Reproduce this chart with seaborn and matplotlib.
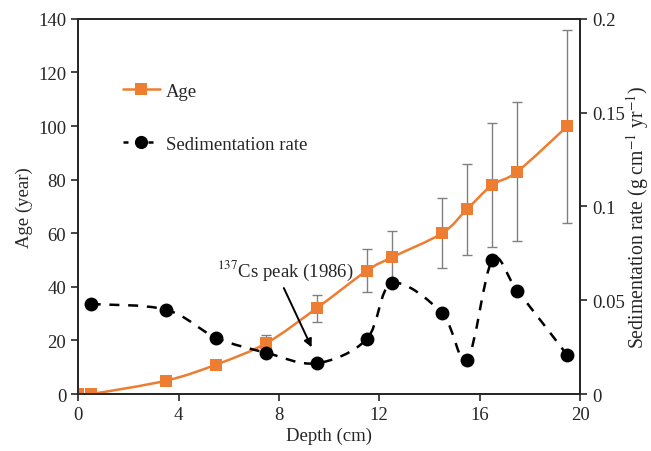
import numpy as np
import pandas as pd
import matplotlib
matplotlib.use("Agg")
import matplotlib.pyplot as plt
from matplotlib.path import Path
from matplotlib.patches import PathPatch
from matplotlib.lines import Line2D
import seaborn as sns

# ---- data ----
age_depth = [0, 0.5, 3.5, 5.5, 7.5, 9.5, 11.5, 12.5, 14.5, 15.5, 16.5, 17.5, 19.5]
age_year = [0, 0, 5, 11, 19, 32, 46, 51, 60, 69, 78, 83, 100]
age_err = [0, 0, 1.5, 0.5, 3, 5, 8, 10, 13, 17, 23, 26, 36]

sed_depth = [0.5, 3.5, 5.5, 7.5, 9.5, 11.5, 12.5, 14.5, 15.5, 16.5, 17.5, 19.5]
sed_rate = [0.048, 0.045, 0.030, 0.022, 0.0164, 0.0293, 0.0590, 0.0432, 0.0182, 0.0712, 0.0552, 0.0206]

x_ticks = [0, 4, 8, 12, 16, 20]
y_ticks = [0, 20, 40, 60, 80, 100, 120, 140]
y2_ticks = [0, 0.05, 0.1, 0.15, 0.2]
y2_labels = ["0", "0.05", "0.1", "0.15", "0.2"]

age_df = pd.DataFrame({"depth": age_depth, "age": age_year})
sed_df = pd.DataFrame({"depth": sed_depth, "rate": sed_rate})

ORANGE = "#ED7D31"

sns.set_theme(style="ticks")
plt.rcParams["font.family"] = ["Liberation Serif", "DejaVu Serif"]
plt.rcParams["mathtext.fontset"] = "stix"
FS = 13.5


def smooth_path(xs, ys):
    """Catmull-Rom style Bezier path through the given points (like a smoothed line)."""
    pts = np.column_stack([xs, ys]).astype(float)
    n = len(pts)
    verts = [pts[0]]
    codes = [Path.MOVETO]
    for i in range(n - 1):
        p0 = pts[i - 1] if i > 0 else pts[i]
        p1 = pts[i]
        p2 = pts[i + 1]
        p3 = pts[i + 2] if i + 2 < n else pts[i + 1]
        c1 = p1 + (p2 - p0) / 6.0
        c2 = p2 - (p3 - p1) / 6.0
        verts += [c1, c2, p2]
        codes += [Path.CURVE4] * 3
    return Path(verts, codes)


fig = plt.figure(figsize=(6.51, 4.52), dpi=100)
ax = fig.add_axes([0.12, 0.126, 0.771, 0.830])
ax2 = ax.twinx()

# Age: error bars, smooth line, markers
ax.errorbar(age_depth, age_year, yerr=age_err, fmt="none", ecolor="#808080",
            elinewidth=1.0, capsize=3.5, capthick=1.0, zorder=2)
ax.add_patch(PathPatch(smooth_path(age_depth, age_year), fill=False,
                       edgecolor=ORANGE, lw=1.8, zorder=3))
sns.scatterplot(data=age_df, x="depth", y="age", ax=ax, marker="s", s=75,
                color=ORANGE, edgecolor=ORANGE, linewidth=0, zorder=4, legend=False)

# Sedimentation rate
ax2.add_patch(PathPatch(smooth_path(sed_depth, sed_rate), fill=False,
                        edgecolor="black", lw=1.8, linestyle=(0, (4, 3.5)), zorder=3))
sns.scatterplot(data=sed_df, x="depth", y="rate", ax=ax2, marker="o", s=100,
                color="black", edgecolor="black", linewidth=0, zorder=4, legend=False)

ax.set_xlim(0, 20)
ax.set_ylim(0, 140)
ax2.set_ylim(0, 0.2)
ax.set_xticks(x_ticks)
ax.set_xticklabels([str(t) for t in x_ticks], fontsize=FS)
ax.set_yticks(y_ticks)
ax.set_yticklabels([str(t) for t in y_ticks], fontsize=FS)
ax2.set_yticks(y2_ticks)
ax2.set_yticklabels(y2_labels, fontsize=FS)

ax.set_xlabel("Depth (cm)", fontsize=FS, labelpad=3)
ax.set_ylabel("Age (year)", fontsize=FS, labelpad=4)
ax2.set_ylabel("")
fig.text(637.5 / 651, 1 - 217 / 452, r"Sedimentation rate (g cm$^{-1}$ yr$^{-1}$)",
         rotation=90, ha="center", va="center", fontsize=14.2, color="#262626")

for a in (ax, ax2):
    for s in a.spines.values():
        s.set_color("#262626")
        s.set_linewidth(1.3)
    a.tick_params(colors="#262626", length=5, width=1.2, direction="out")
    a.tick_params(labelcolor="#262626")
ax.xaxis.set_ticks_position("bottom")

# annotation
ax.annotate("", xy=(9.35, 16.5), xytext=(8.15, 40.5),
            arrowprops=dict(arrowstyle="-|>", color="black", lw=1.4,
                            mutation_scale=12), zorder=6)
ax.text(5.55, 46.5, r"$^{137}$Cs peak (1986)", fontsize=FS, va="center", ha="left",
        color="#262626")

handles = [
    Line2D([], [], color=ORANGE, lw=1.8, marker="s", markersize=8.5, markeredgewidth=0),
    Line2D([], [], color="black", lw=1.8, linestyle=(0, (2, 3)), marker="o",
           markersize=9.5, markeredgewidth=0),
]
leg = ax2.legend(handles, ["Age", "Sedimentation rate"], loc="upper left",
                 bbox_to_anchor=(0.055, 0.875), frameon=False, fontsize=FS,
                 handlelength=2.0, handletextpad=0.3, labelspacing=1.9)
for t in leg.get_texts():
    t.set_color("#262626")

fig.savefig("out.png", dpi=100)
